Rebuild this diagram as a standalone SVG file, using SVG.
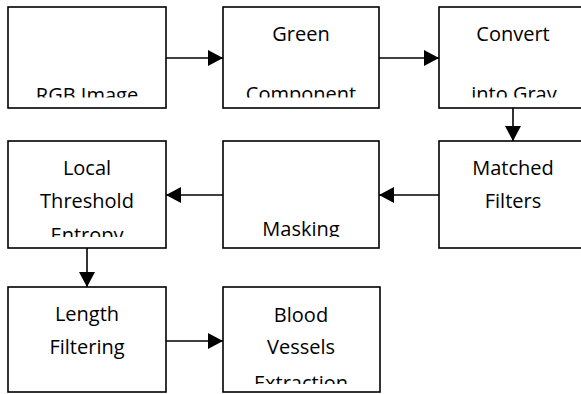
<svg xmlns="http://www.w3.org/2000/svg" width="581" height="394" viewBox="0 0 581 394">
<style>
.box{fill:#fff;stroke:#000;stroke-width:1.6}
.t{font-family:"Open Sans","Liberation Sans",sans-serif;font-size:20px;fill:#000;text-anchor:middle}
.c{stroke:#000;stroke-width:1.6;fill:none}
</style>
<defs>
<marker id="ah" markerUnits="userSpaceOnUse" markerWidth="16" markerHeight="16" viewBox="0 0 15 16" refX="15" refY="8" orient="auto">
<path d="M0,0 L15,8 L0,16 Z" fill="#000"/>
</marker>
<clipPath id="r1"><rect x="0" y="0" width="581" height="97.5"/></clipPath>
<clipPath id="r2"><rect x="0" y="120" width="581" height="117"/></clipPath>
<clipPath id="r3"><rect x="0" y="270" width="581" height="114"/></clipPath>
</defs>
<g id="n1"><rect class="box" x="8" y="7" width="158" height="101"/>
<g clip-path="url(#r1)"><text class="t" x="87" y="102">RGB Image</text></g></g>
<g id="n2"><rect class="box" x="223" y="7" width="156" height="101"/>
<g clip-path="url(#r1)"><text class="t" x="301" y="40.5">Green</text><text class="t" x="301" y="100.5">Component</text></g></g>
<g id="n3"><rect class="box" x="439" y="7" width="162" height="101"/>
<g clip-path="url(#r1)"><text class="t" x="513" y="40.7">Convert</text><text class="t" x="514" y="101">into Gray</text></g></g>
<g id="n4"><rect class="box" x="8" y="141" width="158" height="107"/>
<g clip-path="url(#r2)"><text class="t" x="87" y="175">Local</text><text class="t" x="87" y="208">Threshold</text><text class="t" x="87" y="241.5">Entropy</text></g></g>
<g id="n5"><rect class="box" x="223" y="141" width="156" height="107"/>
<g clip-path="url(#r2)"><text class="t" x="301" y="236">Masking</text></g></g>
<g id="n6"><rect class="box" x="439" y="141" width="162" height="107"/>
<g clip-path="url(#r2)"><text class="t" x="513" y="175">Matched</text><text class="t" x="513" y="208">Filters</text></g></g>
<g id="n7"><rect class="box" x="8" y="287" width="158" height="105"/>
<g clip-path="url(#r3)"><text class="t" x="87" y="321">Length</text><text class="t" x="87" y="353.5">Filtering</text></g></g>
<g id="n8"><rect class="box" x="223" y="287" width="157" height="105"/>
<g clip-path="url(#r3)"><text class="t" x="301" y="321.7">Blood</text><text class="t" x="301" y="354">Vessels</text><text class="t" x="301" y="389.5">Extraction</text></g></g>
<g id="connectors">
<line class="c" x1="166" y1="58" x2="223" y2="58" marker-end="url(#ah)"/>
<line class="c" x1="379" y1="58" x2="439" y2="58" marker-end="url(#ah)"/>
<line class="c" x1="513" y1="108" x2="513" y2="141" marker-end="url(#ah)"/>
<line class="c" x1="439" y1="195" x2="379" y2="195" marker-end="url(#ah)"/>
<line class="c" x1="223" y1="195" x2="166" y2="195" marker-end="url(#ah)"/>
<line class="c" x1="87" y1="248" x2="87" y2="287" marker-end="url(#ah)"/>
<line class="c" x1="166" y1="341" x2="223" y2="341" marker-end="url(#ah)"/>
</g>
</svg>
